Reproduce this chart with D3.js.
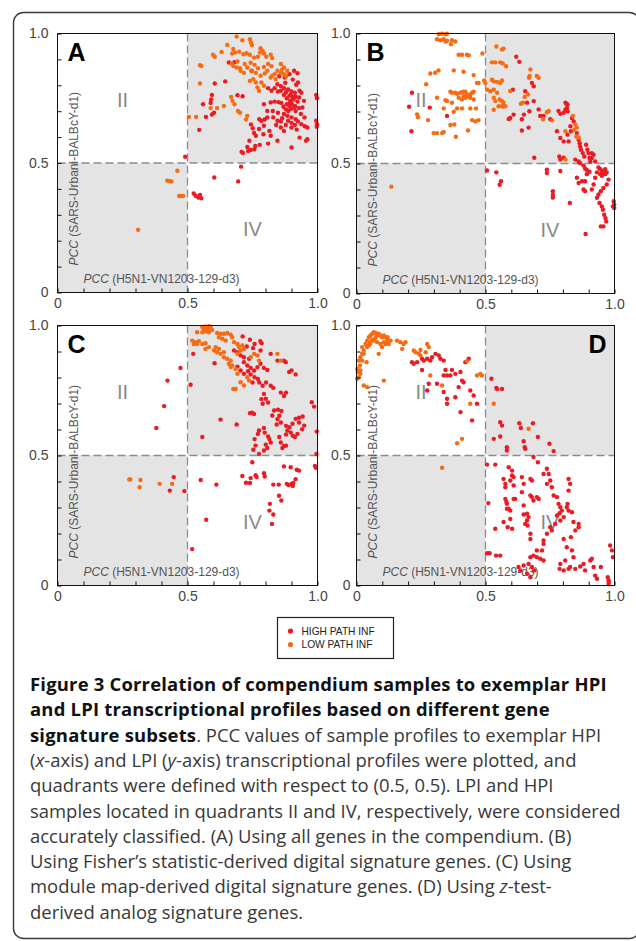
<!DOCTYPE html>
<html>
<head>
<meta charset="utf-8">
<script src="https://d3js.org/d3.v7.min.js"></script>
<style>
    body { margin: 0; background: #fff; }
    svg { display: block; }
</style>
</head>
<body>
<div id="container"></div>
<script>
/* (A) all genes */
const aHigh = [
    [0.659,0.888],[0.680,0.889],[0.605,0.807],[0.645,0.815],[0.594,0.763],[0.591,0.745],[0.589,0.732],[0.560,0.727],
    [0.692,0.762],[0.712,0.758],[0.602,0.694],[0.571,0.678],[0.594,0.687],[0.545,0.628],[0.491,0.524],
    [0.708,0.543],[0.713,0.539],[0.733,0.546],[0.743,0.550],[0.757,0.553],[0.761,0.566],[0.778,0.570],[0.810,0.575],
    [0.738,0.586],[0.730,0.562],[0.744,0.649],[0.751,0.634],[0.756,0.616],[0.763,0.605],[0.776,0.669],[0.784,0.663],
    [0.797,0.668],[0.815,0.624],[0.792,0.611],[0.820,0.734],[0.835,0.737],[0.850,0.735],[0.861,0.732],[0.828,0.701],
    [0.848,0.694],[0.871,0.763],[0.882,0.750],[0.895,0.740],[0.907,0.745],[0.902,0.727],[0.915,0.719],[0.923,0.737],
    [0.892,0.719],[0.879,0.707],[0.871,0.689],[0.864,0.673],[0.859,0.660],[0.887,0.663],[0.900,0.655],[0.913,0.647],
    [0.925,0.660],[0.938,0.650],[0.951,0.642],[0.961,0.637],[0.920,0.629],[0.931,0.598],[0.961,0.592],[0.956,0.586],
    [0.900,0.560],[0.846,0.804],[0.859,0.797],[0.871,0.789],[0.887,0.784],[0.900,0.776],[0.913,0.771],[0.876,0.810],
    [0.925,0.811],[0.931,0.779],[0.938,0.771],[0.918,0.802],[0.905,0.822],[0.874,0.830],[0.892,0.843],[0.910,0.856],
    [0.923,0.847],[0.853,0.835],[0.995,0.763],[0.998,0.750],[0.995,0.663],[0.998,0.650],[0.997,0.640],[0.810,0.789],
    [0.823,0.779],[0.835,0.789],[0.848,0.776],[0.746,0.856],[0.897,0.763],[0.905,0.755],[0.910,0.714],[0.887,0.701],
    [0.936,0.689],[0.950,0.676],[0.841,0.647],[0.859,0.637],[0.871,0.624],[0.900,0.637],[0.794,0.727],[0.807,0.701],
    [0.859,0.779],[0.879,0.773],[0.892,0.760],[0.905,0.751],[0.916,0.756],[0.895,0.734],[0.882,0.727],[0.869,0.717],
    [0.897,0.708],[0.916,0.701],[0.929,0.712],[0.884,0.682],[0.900,0.676],[0.916,0.669],[0.846,0.663],[0.830,0.676],
    [0.878,0.647],[0.807,0.676],[0.929,0.753],[0.948,0.740],[0.942,0.714],[0.794,0.644],[0.775,0.631],[0.820,0.605],
    [0.846,0.586],
    [0.706,0.486],[0.603,0.444],[0.695,0.429],[0.524,0.382],[0.532,0.373],[0.548,0.377],[0.553,0.364],[0.542,0.367]
];
const aLow = [
    [0.689,0.988],[0.711,0.974],[0.740,0.978],[0.744,0.965],[0.748,0.956],[0.653,0.956],[0.676,0.940],[0.683,0.927],
    [0.672,0.923],[0.631,0.929],[0.598,0.918],[0.605,0.910],[0.699,0.930],[0.715,0.920],[0.727,0.924],[0.740,0.918],
    [0.756,0.907],[0.771,0.910],[0.781,0.943],[0.789,0.933],[0.794,0.923],[0.779,0.927],[0.820,0.918],[0.826,0.905],
    [0.803,0.910],[0.670,0.884],[0.692,0.892],[0.720,0.882],[0.743,0.887],[0.758,0.879],[0.730,0.869],[0.704,0.856],
    [0.717,0.848],[0.771,0.866],[0.794,0.871],[0.810,0.882],[0.823,0.874],[0.702,0.866],[0.689,0.869],[0.676,0.875],
    [0.748,0.856],[0.763,0.848],[0.781,0.837],[0.797,0.846],[0.820,0.830],[0.835,0.843],[0.846,0.856],[0.859,0.849],
    [0.871,0.843],[0.879,0.835],[0.884,0.856],[0.859,0.882],[0.871,0.869],[0.864,0.861],[0.548,0.878],[0.553,0.875],
    [0.548,0.807],[0.784,0.811],[0.794,0.798],[0.769,0.792],[0.775,0.779],[0.763,0.811],[0.753,0.824],[0.740,0.817],
    [0.668,0.755],[0.673,0.740],[0.681,0.727],[0.694,0.701],[0.702,0.694],[0.640,0.720],[0.614,0.712],[0.589,0.712],
    [0.505,0.678],[0.533,0.678],[0.730,0.682],[0.725,0.668],[0.826,0.837],[0.839,0.824],[0.807,0.856],
    [0.461,0.470],[0.422,0.432],[0.429,0.431],[0.438,0.429],[0.468,0.373],[0.476,0.373],[0.483,0.373],[0.310,0.242]
];

/* (B) Fisher's statistic */
const bHigh = [
    [0.215,0.772],[0.204,0.718],[0.213,0.624],[0.284,0.715],[0.351,0.683],[0.619,0.911],[0.631,0.891],[0.606,0.784],
    [0.654,0.778],[0.609,0.688],[0.570,0.720],[0.661,0.734],[0.649,0.688],[0.670,0.701],[0.641,0.670],[0.667,0.638],
    [0.596,0.675],[0.590,0.671],[0.641,0.627],[0.680,0.810],[0.687,0.797],[0.712,0.683],[0.725,0.683],[0.687,0.740],
    [0.706,0.708],[0.751,0.670],[0.783,0.702],[0.790,0.691],[0.803,0.695],[0.810,0.708],[0.816,0.714],[0.818,0.701],
    [0.813,0.730],[0.818,0.727],[0.810,0.734],[0.777,0.624],[0.790,0.598],[0.803,0.585],[0.822,0.585],[0.818,0.611],
    [0.831,0.624],[0.829,0.643],[0.835,0.675],[0.842,0.662],[0.854,0.617],[0.861,0.591],[0.865,0.578],[0.867,0.565],
    [0.870,0.553],[0.877,0.540],[0.883,0.527],[0.890,0.572],[0.895,0.553],[0.899,0.540],[0.903,0.521],[0.906,0.508],
    [0.848,0.515],[0.861,0.508],[0.867,0.501],[0.880,0.492],[0.886,0.481],[0.893,0.475],[0.903,0.468],[0.912,0.540],
    [0.919,0.534],[0.912,0.521],[0.925,0.508],[0.938,0.485],[0.945,0.478],[0.951,0.472],[0.957,0.466],[0.964,0.459],
    [0.945,0.459],[0.932,0.466],[0.951,0.453],[0.964,0.478],[0.970,0.466],[0.977,0.438],[0.970,0.419],[0.957,0.406],
    [0.947,0.393],[0.938,0.381],[0.932,0.368],[0.942,0.348],[0.951,0.335],[0.955,0.322],[0.960,0.303],[0.965,0.290],
    [0.968,0.277],[0.957,0.258],[0.947,0.258],[0.997,0.355],[0.999,0.342],[0.994,0.335],[0.999,0.329],[0.925,0.445],
    [0.919,0.419],[0.912,0.400],[0.893,0.459],[0.886,0.432],[0.880,0.400],[0.886,0.393],[0.854,0.445],[0.874,0.432],
    [0.861,0.425],[0.827,0.348],[0.888,0.229],[0.790,0.471],[0.738,0.476],[0.738,0.463],[0.761,0.393],[0.761,0.379],
    [0.761,0.369],[0.803,0.522],[0.790,0.515],[0.786,0.527],[0.689,0.522],[0.542,0.466],[0.506,0.473],[0.560,0.432],
    [0.555,0.418]
];
const bLow = [
    [0.319,0.997],[0.332,0.999],[0.345,0.997],[0.351,0.999],[0.312,0.978],[0.325,0.974],[0.338,0.978],[0.351,0.972],
    [0.345,0.969],[0.370,0.974],[0.383,0.969],[0.366,0.959],[0.396,0.918],[0.409,0.918],[0.428,0.918],[0.435,0.916],
    [0.488,0.923],[0.542,0.950],[0.564,0.938],[0.570,0.942],[0.525,0.889],[0.538,0.889],[0.557,0.889],[0.567,0.885],
    [0.580,0.874],[0.286,0.846],[0.305,0.849],[0.318,0.858],[0.377,0.858],[0.415,0.853],[0.454,0.840],[0.270,0.805],
    [0.467,0.810],[0.473,0.810],[0.495,0.819],[0.499,0.810],[0.525,0.822],[0.532,0.816],[0.545,0.814],[0.557,0.810],
    [0.564,0.819],[0.506,0.784],[0.519,0.778],[0.532,0.784],[0.545,0.772],[0.364,0.776],[0.370,0.772],[0.383,0.772],
    [0.390,0.768],[0.403,0.772],[0.413,0.776],[0.422,0.776],[0.428,0.766],[0.435,0.759],[0.441,0.766],[0.448,0.772],
    [0.454,0.776],[0.415,0.759],[0.396,0.753],[0.409,0.746],[0.422,0.753],[0.441,0.753],[0.454,0.746],[0.345,0.743],
    [0.351,0.740],[0.370,0.734],[0.312,0.753],[0.235,0.689],[0.238,0.678],[0.277,0.667],[0.338,0.712],[0.390,0.712],
    [0.409,0.712],[0.441,0.712],[0.463,0.712],[0.377,0.699],[0.448,0.667],[0.461,0.662],[0.299,0.617],[0.312,0.617],
    [0.332,0.617],[0.338,0.621],[0.364,0.648],[0.379,0.650],[0.385,0.603],[0.432,0.627],[0.473,0.667],[0.532,0.753],
    [0.538,0.740],[0.555,0.746],[0.564,0.740],[0.570,0.734],[0.564,0.720],[0.577,0.720],[0.532,0.707],[0.551,0.720],
    [0.596,0.779],[0.637,0.730],[0.645,0.734],[0.671,0.837],[0.669,0.830],[0.699,0.837],[0.706,0.830],[0.674,0.862],
    [0.665,0.766],[0.652,0.756],[0.745,0.702],[0.738,0.697],[0.723,0.670],[0.758,0.666],[0.848,0.650],[0.854,0.638],
    [0.844,0.630],[0.852,0.604],[0.861,0.600],[0.810,0.624],[0.839,0.683],[0.810,0.515],[0.135,0.411]
];

/* (C) module map */
const cHigh = [
    [0.712,0.958],[0.740,0.945],[0.758,0.929],[0.785,0.932],[0.780,0.940],[0.728,0.919],[0.752,0.913],[0.781,0.904],
    [0.717,0.878],[0.737,0.872],[0.820,0.891],[0.846,0.865],[0.871,0.865],[0.878,0.859],[0.679,0.904],[0.692,0.897],
    [0.704,0.885],[0.717,0.859],[0.730,0.846],[0.743,0.837],[0.756,0.827],[0.769,0.840],[0.781,0.853],[0.794,0.837],
    [0.807,0.829],[0.692,0.842],[0.704,0.827],[0.717,0.814],[0.733,0.824],[0.743,0.812],[0.758,0.801],[0.771,0.794],
    [0.750,0.781],[0.776,0.781],[0.789,0.768],[0.802,0.781],[0.820,0.768],[0.830,0.760],[0.891,0.821],[0.900,0.827],
    [0.916,0.812],[0.859,0.742],[0.879,0.742],[0.871,0.729],[0.794,0.737],[0.801,0.718],[0.810,0.704],[0.784,0.717],
    [0.789,0.699],[0.833,0.673],[0.848,0.676],[0.861,0.671],[0.826,0.654],[0.853,0.653],[0.846,0.640],[0.859,0.627],
    [0.843,0.619],[0.740,0.663],[0.748,0.665],[0.756,0.660],[0.775,0.596],[0.771,0.583],[0.794,0.606],[0.797,0.588],
    [0.810,0.573],[0.815,0.563],[0.820,0.550],[0.801,0.542],[0.807,0.529],[0.794,0.519],[0.775,0.506],[0.753,0.522],
    [0.762,0.538],[0.758,0.563],[0.853,0.571],[0.859,0.550],[0.871,0.537],[0.865,0.529],[0.879,0.538],[0.879,0.614],
    [0.884,0.596],[0.897,0.588],[0.905,0.576],[0.913,0.571],[0.923,0.583],[0.916,0.641],[0.929,0.645],[0.943,0.650],
    [0.929,0.627],[0.949,0.615],[0.941,0.601],[0.904,0.622],[0.892,0.609],[0.879,0.581],[0.978,0.705],[0.987,0.688],
    [0.997,0.592],[0.996,0.506],[0.990,0.460],[0.994,0.453],[0.749,0.474],[0.711,0.421],[0.725,0.395],[0.740,0.394],
    [0.743,0.413],[0.762,0.424],[0.766,0.417],[0.794,0.432],[0.797,0.419],[0.830,0.388],[0.851,0.388],[0.882,0.391],
    [0.889,0.386],[0.900,0.391],[0.905,0.383],[0.907,0.394],[0.916,0.409],[0.929,0.442],[0.920,0.445],[0.897,0.455],
    [0.871,0.458],[0.852,0.345],[0.861,0.327],[0.817,0.314],[0.815,0.288],[0.830,0.273],[0.825,0.237],[0.551,0.406],
    [0.447,0.417],[0.432,0.365],[0.488,0.363],[0.611,0.388],[0.572,0.253],[0.518,0.140],[0.473,0.837],[0.423,0.788],
    [0.410,0.690],[0.380,0.606],[0.522,0.891],[0.512,0.772],[0.557,0.571],[0.627,0.638],[0.689,0.619],[0.604,0.855]
];
const cLow = [
    [0.557,0.994],[0.569,0.996],[0.582,0.997],[0.589,0.994],[0.576,0.987],[0.563,0.983],[0.595,0.983],[0.569,0.978],
    [0.582,0.974],[0.557,0.974],[0.537,0.974],[0.614,0.971],[0.627,0.968],[0.640,0.968],[0.653,0.971],[0.666,0.965],
    [0.672,0.955],[0.621,0.955],[0.634,0.949],[0.647,0.942],[0.518,0.942],[0.531,0.936],[0.544,0.940],[0.524,0.929],
    [0.557,0.929],[0.569,0.932],[0.537,0.929],[0.569,0.910],[0.582,0.917],[0.602,0.904],[0.614,0.897],[0.627,0.891],
    [0.640,0.897],[0.621,0.910],[0.608,0.917],[0.679,0.936],[0.692,0.929],[0.698,0.917],[0.711,0.923],[0.717,0.910],
    [0.704,0.904],[0.692,0.891],[0.640,0.878],[0.653,0.872],[0.666,0.865],[0.659,0.853],[0.672,0.846],[0.743,0.878],
    [0.756,0.891],[0.769,0.885],[0.775,0.865],[0.846,0.891],[0.859,0.865],[0.666,0.840],[0.685,0.833],[0.692,0.814],
    [0.730,0.801],[0.737,0.788],[0.717,0.769],[0.685,0.756],[0.676,0.756],[0.704,0.782],
    [0.276,0.408],[0.280,0.408],[0.319,0.406],[0.316,0.378],[0.393,0.391],[0.441,0.391]
];

/* (D) z-test */
const dHigh = [
    [0.215,0.859],[0.222,0.853],[0.235,0.859],[0.254,0.872],[0.261,0.865],[0.274,0.872],[0.286,0.865],[0.293,0.878],
    [0.306,0.891],[0.319,0.885],[0.325,0.872],[0.338,0.865],[0.345,0.829],[0.338,0.808],[0.351,0.808],[0.364,0.808],
    [0.370,0.829],[0.383,0.814],[0.403,0.821],[0.409,0.788],[0.415,0.782],[0.396,0.763],[0.383,0.724],[0.351,0.718],
    [0.338,0.744],[0.351,0.699],[0.403,0.667],[0.422,0.859],[0.435,0.872],[0.441,0.750],[0.454,0.731],[0.467,0.699],
    [0.448,0.635],[0.312,0.776],[0.280,0.776],[0.274,0.750],[0.254,0.829],
    [0.523,0.795],[0.542,0.760],[0.545,0.756],[0.564,0.756],[0.557,0.628],[0.564,0.615],[0.532,0.564],[0.557,0.573],
    [0.583,0.532],[0.583,0.519],[0.631,0.624],[0.637,0.606],[0.648,0.555],[0.652,0.532],[0.654,0.526],[0.684,0.624],
    [0.703,0.571],[0.748,0.545],[0.764,0.517],[0.686,0.494],[0.703,0.474],[0.506,0.465],[0.538,0.465],[0.511,0.317],
    [0.538,0.218],[0.506,0.124],[0.516,0.124],[0.541,0.115],[0.557,0.115],[0.570,0.410],[0.577,0.391],[0.577,0.378],
    [0.577,0.333],[0.581,0.321],[0.583,0.314],[0.583,0.295],[0.590,0.455],[0.603,0.442],[0.603,0.423],[0.609,0.417],
    [0.596,0.404],[0.609,0.385],[0.570,0.244],[0.586,0.224],[0.596,0.256],[0.603,0.218],[0.596,0.288],[0.590,0.295],
    [0.615,0.333],[0.609,0.333],[0.641,0.417],[0.648,0.391],[0.641,0.359],[0.648,0.308],[0.661,0.276],[0.667,0.263],
    [0.654,0.237],[0.674,0.410],[0.680,0.404],[0.674,0.346],[0.680,0.340],[0.686,0.327],[0.699,0.340],[0.706,0.333],
    [0.648,0.273],[0.661,0.250],[0.663,0.231],[0.674,0.199],[0.674,0.179],[0.738,0.449],[0.745,0.429],[0.725,0.429],
    [0.751,0.404],[0.738,0.391],[0.757,0.378],[0.764,0.346],[0.777,0.340],[0.783,0.314],[0.790,0.301],[0.796,0.288],
    [0.787,0.278],[0.777,0.269],[0.803,0.263],[0.790,0.250],[0.770,0.237],[0.751,0.224],[0.757,0.212],[0.738,0.199],
    [0.725,0.173],[0.725,0.160],[0.719,0.135],[0.699,0.135],[0.686,0.115],[0.674,0.109],[0.699,0.109],[0.712,0.103],
    [0.725,0.096],[0.689,0.058],[0.680,0.071],[0.667,0.083],[0.648,0.077],[0.635,0.058],[0.628,0.071],[0.661,0.045],
    [0.674,0.032],[0.822,0.410],[0.828,0.391],[0.822,0.365],[0.818,0.314],[0.815,0.301],[0.822,0.288],[0.835,0.282],
    [0.841,0.244],[0.861,0.224],[0.861,0.237],[0.848,0.212],[0.831,0.186],[0.803,0.179],[0.815,0.147],[0.809,0.096],
    [0.790,0.083],[0.787,0.064],[0.835,0.135],[0.841,0.109],[0.828,0.071],[0.822,0.064],[0.803,0.058],[0.848,0.064],
    [0.867,0.073],[0.880,0.083],[0.886,0.058],[0.906,0.096],[0.912,0.103],[0.919,0.071],[0.925,0.038],[0.932,0.026],
    [0.947,0.071],[0.983,0.154],[0.990,0.135],[0.994,0.109],[0.977,0.006],[0.977,0.019],[0.974,0.032],[0.978,0.013]
];
const dLow = [
    [0.003,0.833],[0.005,0.821],[0.009,0.801],[0.003,0.795],[0.015,0.814],[0.013,0.846],[0.009,0.865],[0.015,0.878],
    [0.022,0.891],[0.028,0.904],[0.022,0.917],[0.035,0.929],[0.041,0.942],[0.048,0.955],[0.054,0.962],[0.061,0.968],
    [0.067,0.974],[0.074,0.971],[0.080,0.962],[0.086,0.968],[0.093,0.962],[0.099,0.955],[0.106,0.962],[0.112,0.955],
    [0.119,0.942],[0.112,0.929],[0.106,0.936],[0.093,0.929],[0.080,0.936],[0.067,0.942],[0.054,0.936],[0.048,0.923],
    [0.041,0.917],[0.028,0.891],[0.022,0.865],[0.015,0.827],[0.039,0.859],[0.052,0.929],[0.061,0.945],[0.074,0.953],
    [0.086,0.891],[0.099,0.917],[0.125,0.929],[0.132,0.942],[0.121,0.955],[0.157,0.942],[0.170,0.936],[0.177,0.910],
    [0.183,0.929],[0.190,0.936],[0.222,0.904],[0.229,0.897],[0.242,0.891],[0.248,0.906],[0.274,0.929],[0.280,0.917],
    [0.268,0.897],[0.332,0.769],[0.106,0.788],[0.028,0.769],[0.041,0.763],[0.428,0.863],[0.467,0.808],[0.480,0.814],
    [0.486,0.808],[0.441,0.699],[0.390,0.547],[0.409,0.564],[0.332,0.453],[0.532,0.699],[0.667,0.603],[0.286,0.808],
    [0.248,0.885]
];

const panelLetters = ['A', 'B', 'C', 'D'];
const tickValues = [0, 0.1, 0.2, 0.3, 0.4, 0.5, 0.6, 0.7, 0.8, 0.9, 1.0];
const tickLabels = {'0': '0', '0.5': '0.5', '1': '1.0'};
const quadrantLabels = [{text: 'II', x: 0.25, y: 0.745}, {text: 'IV', x: 0.75, y: 0.245}];
const shadedQuadrants = [{x0: 0.5, x1: 1, y0: 0.5, y1: 1}, {x0: 0, x1: 0.5, y0: 0, y1: 0.5}];
const xTitle = 'H5N1-VN1203-129-d3';
const yTitle = 'SARS-Urbani-BALBcY-d1';
const legendItems = ['HIGH PATH INF', 'LOW PATH INF'];

const captionLines = [
    [['Figure 3 Correlation of compendium samples to exemplar HPI', 'b']],
    [['and LPI transcriptional profiles based on different gene', 'b']],
    [['signature subsets', 'b'], ['. PCC values of sample profiles to exemplar HPI', 'r']],
    [['(', 'r'], ['x', 'i'], ['-axis) and LPI (', 'r'], ['y', 'i'], ['-axis) transcriptional profiles were plotted, and', 'r']],
    [['quadrants were defined with respect to (0.5, 0.5). LPI and HPI', 'r']],
    [['samples located in quadrants II and IV, respectively, were considered', 'r']],
    [['accurately classified. (A) Using all genes in the compendium. (B)', 'r']],
    [['Using Fisher\u2019s statistic-derived digital signature genes. (C) Using', 'r']],
    [['module map-derived digital signature genes. (D) Using ', 'r'], ['z', 'i'], ['-test-', 'r']],
    [['derived analog signature genes.', 'r']]
];

const COLORS = {high: '#ec1b23', low: '#f76b12', shade: '#e4e4e4', dash: '#8c8c8c'};
const SANS = '"Liberation Sans", Arial, sans-serif';

const svg = d3.select('#container')
    .append('svg')
    .attr('width', 636)
    .attr('height', 941);

// outer rounded frame of the figure
svg.append('rect')
    .attr('x', 13.5).attr('y', 12.5)
    .attr('width', 626).attr('height', 926)
    .attr('rx', 10)
    .attr('fill', 'none')
    .attr('stroke', '#3a3a3a')
    .attr('stroke-width', 1.4);

const panels = [
    {left: 57, top: 33, w: 260, h: 259, high: aHigh, low: aLow, letterRight: false, yPad: 9},
    {left: 356, top: 33, w: 258, h: 260, high: bHigh, low: bLow, letterRight: false, yPad: 6},
    {left: 57, top: 325, w: 260, h: 260, high: cHigh, low: cLow, letterRight: false, yPad: 9},
    {left: 356, top: 325, w: 258, h: 260, high: dHigh, low: dLow, letterRight: true, yPad: 6}
];

function fmtTick(d) {
    const key = String(Math.round(d * 10) / 10);
    return tickLabels[key] || '';
}

function drawPanel(p, i) {
    const x = d3.scaleLinear().domain([0, 1]).range([0, p.w]);
    const y = d3.scaleLinear().domain([0, 1]).range([p.h, 0]);

    const g = svg.append('g')
        .attr('class', 'panel')
        .attr('transform', `translate(${p.left + 0.5},${p.top + 0.5})`);

    g.selectAll('rect.shade')
        .data(shadedQuadrants)
        .join('rect')
        .attr('class', 'shade')
        .attr('x', (d) => x(d.x0))
        .attr('y', (d) => y(d.y1))
        .attr('width', (d) => x(d.x1) - x(d.x0))
        .attr('height', (d) => y(d.y0) - y(d.y1))
        .attr('fill', COLORS.shade);

    g.selectAll('text.quad')
        .data(quadrantLabels)
        .join('text')
        .attr('class', 'quad')
        .attr('x', (d) => x(d.x))
        .attr('y', (d) => y(d.y))
        .attr('dy', '0.36em')
        .attr('text-anchor', 'middle')
        .attr('font-family', SANS)
        .attr('font-size', 20)
        .attr('fill', '#8a8a8a')
        .text((d) => d.text);

    // dashed quadrant dividers at 0.5
    g.append('line')
        .attr('x1', x(0.5)).attr('x2', x(0.5))
        .attr('y1', y(1)).attr('y2', y(0))
        .attr('stroke', COLORS.dash).attr('stroke-width', 1.3)
        .attr('stroke-dasharray', '8,4');
    g.append('line')
        .attr('x1', x(0)).attr('x2', x(1))
        .attr('y1', y(0.5)).attr('y2', y(0.5))
        .attr('stroke', COLORS.dash).attr('stroke-width', 1.3)
        .attr('stroke-dasharray', '8,4');

    /* axis titles sit inside the plot */
    g.append('text')
        .attr('x', 26)
        .attr('y', p.h - 10)
        .attr('font-family', SANS)
        .attr('font-size', 12)
        .attr('fill', '#555')
        .call((t) => {
            t.append('tspan').attr('font-style', 'italic').text('PCC');
            t.append('tspan').text(` (${xTitle})`);
        });

    g.append('text')
        .attr('transform', `translate(20,${p.h - 27}) rotate(-90)`)
        .attr('font-family', SANS)
        .attr('font-size', 12)
        .attr('fill', '#555')
        .call((t) => {
            t.append('tspan').attr('font-style', 'italic').text('PCC');
            t.append('tspan').text(` (${yTitle})`);
        });

    g.selectAll('circle.high')
        .data(p.high)
        .join('circle')
        .attr('class', 'high')
        .attr('cx', (d) => x(d[0]))
        .attr('cy', (d) => y(d[1]))
        .attr('r', 2.2)
        .attr('fill', COLORS.high);

    g.selectAll('circle.low')
        .data(p.low)
        .join('circle')
        .attr('class', 'low')
        .attr('cx', (d) => x(d[0]))
        .attr('cy', (d) => y(d[1]))
        .attr('r', 2.2)
        .attr('fill', COLORS.low);

    g.append('rect')
        .attr('width', p.w).attr('height', p.h)
        .attr('fill', 'none')
        .attr('stroke', '#111')
        .attr('stroke-width', 1);

    const xAxis = d3.axisBottom(x)
        .tickValues(tickValues)
        .tickSizeInner(-4)
        .tickSizeOuter(0)
        .tickPadding(6)
        .tickFormat(fmtTick);
    const yAxis = d3.axisLeft(y)
        .tickValues(tickValues)
        .tickSizeInner(-4)
        .tickSizeOuter(0)
        .tickPadding(p.yPad)
        .tickFormat(fmtTick);

    const styleAxis = (a) => {
        a.select('.domain').remove();
        a.selectAll('line').attr('stroke', '#111');
        a.selectAll('text')
            .attr('font-family', SANS)
            .attr('font-size', 14)
            .attr('fill', '#444');
    };

    g.append('g').attr('transform', `translate(0,${p.h})`).call(xAxis).call(styleAxis);
    g.append('g').call(yAxis).call(styleAxis);

    g.append('text')
        .attr('x', p.letterRight ? p.w - 8 : 10)
        .attr('y', 27)
        .attr('text-anchor', p.letterRight ? 'end' : 'start')
        .attr('font-family', SANS)
        .attr('font-weight', 'bold')
        .attr('font-size', 25)
        .attr('fill', '#000')
        .text(panelLetters[i]);
}

panels.forEach(drawPanel);

/* legend */
const legend = svg.append('g').attr('transform', 'translate(277.5,617.5)');
legend.append('rect')
    .attr('width', 116).attr('height', 41)
    .attr('fill', '#fff')
    .attr('stroke', '#222')
    .attr('stroke-width', 1.2);
const legendRow = legend.selectAll('g.row')
    .data(legendItems)
    .join('g')
    .attr('class', 'row')
    .attr('transform', (d, i) => `translate(0,${13.5 + i * 13.5})`);
legendRow.append('circle')
    .attr('cx', 13).attr('r', 2.6)
    .attr('fill', (d, i) => i === 0 ? COLORS.high : COLORS.low);
legendRow.append('text')
    .attr('x', 24)
    .attr('dy', '0.35em')
    .attr('font-family', SANS)
    .attr('font-size', 10.2)
    .attr('fill', '#222')
    .text((d) => d);

/* caption */
const caption = svg.append('g').attr('class', 'caption');
const captionText = caption.selectAll('text')
    .data(captionLines)
    .join('text')
    .attr('x', 30)
    .attr('y', (d, i) => 691 + i * 25.3)
    .attr('font-family', '"Open Sans", "Noto Sans", sans-serif')
    .attr('font-size', 16);
captionText.selectAll('tspan')
    .data((d) => d)
    .join('tspan')
    .attr('font-weight', (d) => d[1] === 'b' ? 'bold' : 'normal')
    .attr('font-style', (d) => d[1] === 'i' ? 'italic' : 'normal')
    .attr('letter-spacing', (d) => d[1] === 'b' ? 0.2 : null)
    .attr('fill', (d) => d[1] === 'b' ? '#111' : '#383838')
    .text((d) => d[0]);

// fit the longest plain line to the column width seen in the figure
const ref = captionText.filter((d, i) => i === 5).node();
const size = 16 * 591 / ref.getComputedTextLength();
captionText.attr('font-size', size);
</script>
</body>
</html>
